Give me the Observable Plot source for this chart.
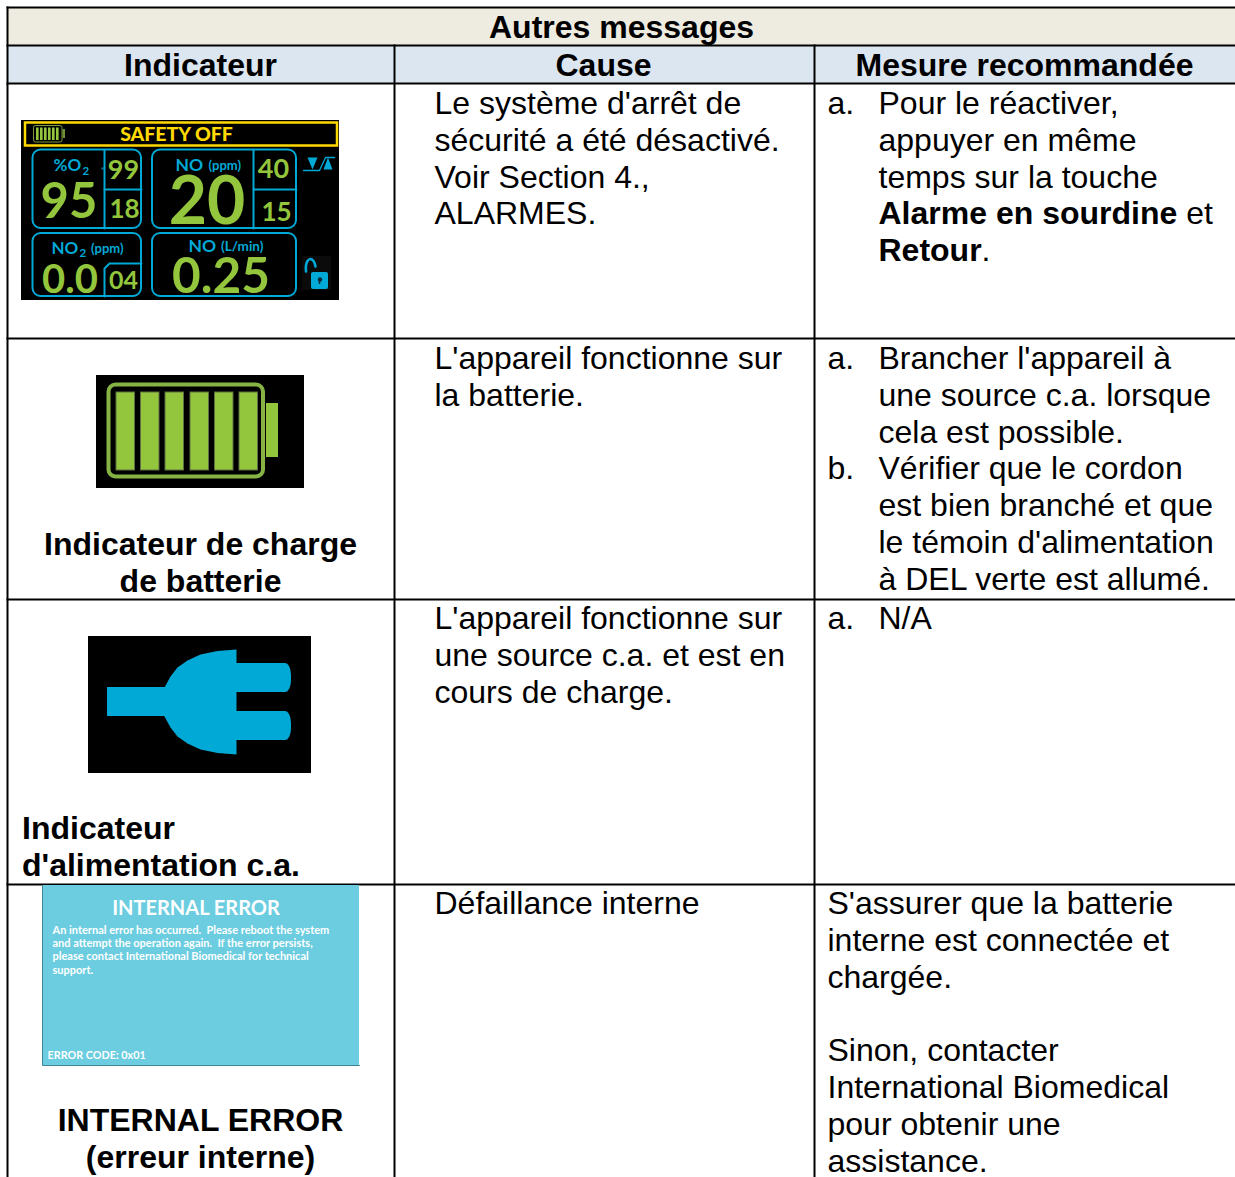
<!DOCTYPE html>
<html><head><meta charset="utf-8">
<script src="https://cdn.jsdelivr.net/npm/d3@7"></script>
<script src="https://cdn.jsdelivr.net/npm/@observablehq/plot@0.6"></script>
<style>html,body{margin:0;padding:0;background:#fff}svg{display:block}svg text{white-space:pre}</style>
</head><body><div id="chart"></div>
<script>
// ---------- table content ----------
const tableTitle = "Autres messages";
const columnHeads = ["Indicateur", "Cause", "Mesure recommandée"];
const causes = [
  ["Le système d'arrêt de", "sécurité a été désactivé.", "Voir Section 4.,", "ALARMES."],
  ["L'appareil fonctionne sur", "la batterie."],
  ["L'appareil fonctionne sur", "une source c.a. et est en", "cours de charge."],
  ["Défaillance interne"]
];
const actionMarkers = [
  ["a."],
  ["a.", null, null, "b."],
  ["a."],
  []
];
// an action line is a list of [text, isBold] runs
const actions = [
  [[["Pour le réactiver,", 0]], [["appuyer en même", 0]], [["temps sur la touche", 0]],
   [["Alarme en sourdine", 1], [" et", 0]], [["Retour", 1], [".", 0]]],
  [[["Brancher l'appareil à", 0]], [["une source c.a. lorsque", 0]], [["cela est possible.", 0]],
   [["Vérifier que le cordon", 0]], [["est bien branché et que", 0]], [["le témoin d'alimentation", 0]], [["à DEL verte est allumé.", 0]]],
  [[["N/A", 0]]],
  [[["S'assurer que la batterie", 0]], [["interne est connectée et", 0]], [["chargée.", 0]], [["", 0]],
   [["Sinon, contacter", 0]], [["International Biomedical", 0]], [["pour obtenir une", 0]], [["assistance.", 0]]]
];
const captions = [
  [],
  ["Indicateur de charge", "de batterie"],
  ["Indicateur", "d'alimentation c.a."],
  ["INTERNAL ERROR", "(erreur interne)"]
];
const errorHeading = "INTERNAL ERROR";
const errorBody = ["An internal error has occurred.  Please reboot the system",
  "and attempt the operation again.  If the error persists,",
  "please contact International Biomedical for technical",
  "support."];
const errorCode = "ERROR CODE: 0x01";

// ---------- layout ----------
const W = 1235, H = 1177;
const colX = [7, 394, 814, 1235];
const rowY = [7, 45, 83, 338, 599, 884, 1177];
const lineH = 36.8, fs = 32;
const cellBase = [113.5, 368.5, 628.5, 913.5];
const causeX = 434, markX = 827, actX = 878;
const capCenter = 200;
const capBase = [null, 554.5, 838.5, 1130.5];
const FONT = "Liberation Sans", DISP = "Lato";
const BLUE = "#00a9d6", GREEN = "#93c63d", YEL = "#ffd900";

const ctx = document.createElement("canvas").getContext("2d");
const measure = (s, b) => { ctx.font = `${b ? "bold " : ""}${fs}px "${FONT}"`; return ctx.measureText(s).width; };

const regular = [], bold = [], boldMid = [];
causes.forEach((ls, r) => ls.forEach((t, i) => regular.push({x: causeX, y: cellBase[r] + i * lineH, t})));
actionMarkers.forEach((ls, r) => ls.forEach((t, i) => { if (t) regular.push({x: markX, y: cellBase[r] + i * lineH, t}); }));
actions.forEach((ls, r) => ls.forEach((runs, i) => {
  let x = r === 3 ? markX : actX;
  for (const [t, b] of runs) {
    if (t) (b ? bold : regular).push({x, y: cellBase[r] + i * lineH, t});
    x += measure(t, b);
  }
}));
captions.forEach((ls, r) => ls.forEach((t, i) => {
  if (r === 2) bold.push({x: 21.5, y: capBase[r] + i * lineH, t});
  else boldMid.push({x: capCenter, y: capBase[r] + i * lineH, t});
}));
boldMid.push({x: 621, y: 37, t: tableTitle});
[200, 603, 1024].forEach((x, i) => boldMid.push({x, y: 75.5, t: columnHeads[i]}));

// ---------- helpers ----------
const R = (x1, x2, y1, y2) => ({x1, x2, y1, y2});
const box = (rows, o) => Plot.rect(rows, {x1: "x1", x2: "x2", y1: "y1", y2: "y2", ...o});
const txt = (rows, o) => Plot.text(rows, {x: "x", y: "y", text: "t", lineAnchor: "bottom", textAnchor: "start", fontFamily: FONT, fontSize: fs, fill: "#000", ...o});
const seg = (pts, o) => Plot.line(pts, {x: d => d[0], y: d => d[1], ...o});

// ---------- grid ----------
const bands = [
  {...R(colX[0], W, rowY[0], rowY[1]), f: "#eeebe0"},
  {...R(colX[0], W, rowY[1], rowY[2]), f: "#dce6f1"}
];
const gridLines = [];
rowY.slice(0, 6).forEach(y => gridLines.push([[colX[0], y], [W, y]]));
gridLines.push([[colX[0], rowY[0]], [colX[0], H]]);
gridLines.push([[colX[1], rowY[1]], [colX[1], H]]);
gridLines.push([[colX[2], rowY[1]], [colX[2], H]]);

// ---------- safety-off screen ----------
const screen = [R(21, 339, 120, 300)];
const panels = [R(32.5, 141, 149.5, 228), R(152, 296, 149.5, 228), R(32.5, 141, 233, 296), R(152, 296, 233, 296)];
const panelLines = [
  [[104, 150], [104, 228]], [[104, 189], [141, 189]],
  [[253, 150], [253, 228]], [[253, 189], [296, 189]],
  [[104, 296], [104, 268], [109, 263], [141, 263]]
];
const screenNums = [
  {t: "95", x: 68.5, y: 217, s: 49}, {t: "20", x: 206.5, y: 223, s: 66},
  {t: "0.0", x: 69.5, y: 292, s: 40}, {t: "0.25", x: 220.5, y: 292, s: 49.5},
  {t: "99", x: 123, y: 178, s: 27}, {t: "18", x: 124, y: 217, s: 26},
  {t: "40", x: 273, y: 177, s: 27}, {t: "15", x: 276, y: 220, s: 26},
  {t: "04", x: 123, y: 288, s: 25}
];
const screenLabels = [
  {t: "%O", x: 53, y: 170, s: 17}, {t: "2", x: 82, y: 174, s: 11.5},
  {t: "NO", x: 175, y: 170, s: 17.5}, {t: "(ppm)", x: 208, y: 169, s: 13},
  {t: "NO", x: 51, y: 253, s: 17}, {t: "2", x: 79, y: 256, s: 11.5}, {t: "(ppm)", x: 90.5, y: 252, s: 13},
  {t: "NO", x: 188, y: 251, s: 17.5}, {t: "(L/min)", x: 220.5, y: 250, s: 13.5}
];
const miniFrame = [R(33.5, 62, 125.5, 142)];
const miniCells = [36, 40, 44, 48, 52, 56].map(x => R(x, x + 2.6, 127.5, 140));

// ---------- battery and plug ----------
const batteryCells = [116, 140.5, 165, 190, 214.5, 239].map(x => R(x, x + 18.5, 392, 470));
const plugBody = [[164, 687], [170, 676], [177, 667], [187, 660], [200, 654], [217, 650.5], [236, 649],
  [236, 754], [217, 752.5], [200, 749], [187, 743], [177, 736], [170, 727], [164, 716]];
const prongs = [R(200, 291, 663, 692), R(200, 291, 711, 740)];

document.getElementById("chart").append(Plot.plot({
  width: W, height: H, margin: 0,
  x: {domain: [0, W], range: [0, W], axis: null},
  y: {domain: [0, H], range: [0, H], axis: null},
  marks: [
    box(bands, {fill: "f"}),
    ...gridLines.map(l => seg(l, {stroke: "#000", strokeWidth: 2, strokeLinecap: "square"})),
    txt(regular, {}),
    txt(bold, {fontWeight: 700}),
    txt(boldMid, {fontWeight: 700, textAnchor: "middle"}),

    // safety-off screen
    box(screen, {fill: "#000"}),
    box([R(25, 337, 122.5, 145.5)], {stroke: YEL, strokeWidth: 2.5, fill: "none"}),
    Plot.text([{t: "SAFETY OFF"}], {x: () => 176, y: () => 140.5, text: "t", lineAnchor: "bottom", fill: YEL, fontFamily: DISP, fontWeight: 900, fontSize: 19.5}),
    box(miniFrame, {stroke: "#7a9a40", strokeWidth: 1, fill: "none", rx: 2}),
    box(miniCells, {fill: GREEN}),
    box([R(62.5, 65, 129, 138)], {fill: "#6f8f38"}),
    box(panels, {stroke: BLUE, strokeWidth: 2, fill: "none", rx: 8}),
    ...panelLines.map(l => seg(l, {stroke: BLUE, strokeWidth: 2})),
    Plot.text(screenNums, {x: "x", y: "y", text: "t", fontSize: "s", fill: GREEN, fontFamily: DISP, fontWeight: 700, lineAnchor: "bottom"}),
    Plot.text(screenLabels, {x: "x", y: "y", text: "t", fontSize: "s", fill: BLUE, fontFamily: DISP, fontWeight: 700, textAnchor: "start", lineAnchor: "bottom"}),
    Plot.dot([[102, 168]], {x: d => d[0], y: d => d[1], r: 1.3, fill: BLUE, fillOpacity: 0.6}),
    // bypass symbol
    seg([[307, 157], [317, 157], [312, 169]], {fill: BLUE, stroke: "none"}),
    seg([[323, 169], [332, 169], [327.5, 157]], {fill: BLUE, stroke: "none"}),
    seg([[303, 170], [319, 170], [325, 157], [334, 157]], {stroke: BLUE, strokeWidth: 1.3}),
    // padlock
    box([R(302, 331, 256, 290)], {fill: "#0b0b0b"}),
    box([R(311, 328, 272, 289)], {fill: BLUE, rx: 2}),
    seg([[305.5, 271], [305.5, 265], [307, 260.5], [310, 258.5], [313, 260.5], [315, 266]], {stroke: BLUE, strokeWidth: 2.6, curve: "catmull-rom"}),
    Plot.dot([[319.5, 279]], {x: d => d[0], y: d => d[1], r: 2.2, fill: "#0b2a3a"}),
    box([R(318.7, 320.3, 279, 284)], {fill: "#0b2a3a"}),

    // battery
    box([R(96, 304, 375, 488)], {fill: "#000"}),
    box([R(108.5, 263, 384.5, 476.5)], {stroke: "#86b344", strokeWidth: 4, fill: "none", rx: 7}),
    box(batteryCells, {fill: GREEN, stroke: "#5f6f45", strokeWidth: 1}),
    box([R(266, 278, 403, 457)], {fill: GREEN}),

    // plug
    box([R(88, 311, 636, 773)], {fill: "#000"}),
    box([R(107, 200, 687, 716)], {fill: BLUE}),
    seg(plugBody, {fill: BLUE, stroke: "none"}),
    box(prongs, {fill: BLUE, rx: 6, ry: 12}),

    // internal error screen
    box([R(42, 359, 885, 1065)], {fill: "#6bcddf"}),
    seg([[42, 885], [42, 1065], [359, 1065]], {stroke: "#3f8793", strokeWidth: 1}),
    Plot.text([{t: errorHeading}], {x: () => 195.5, y: () => 914, text: "t", lineAnchor: "bottom", fill: "#fff", fontFamily: DISP, fontWeight: 700, fontSize: 20}),
    Plot.text(errorBody.map((t, i) => ({t, i})), {x: () => 52, y: d => 933 + d.i * 13.4, text: "t", lineAnchor: "bottom", textAnchor: "start", fill: "#fff", fontFamily: DISP, fontWeight: 700, fontSize: 11}),
    Plot.text([{t: errorCode}], {x: () => 47, y: () => 1058, text: "t", lineAnchor: "bottom", textAnchor: "start", fill: "#fff", fontFamily: DISP, fontWeight: 700, fontSize: 10.8})
  ]
}));
</script></body></html>
